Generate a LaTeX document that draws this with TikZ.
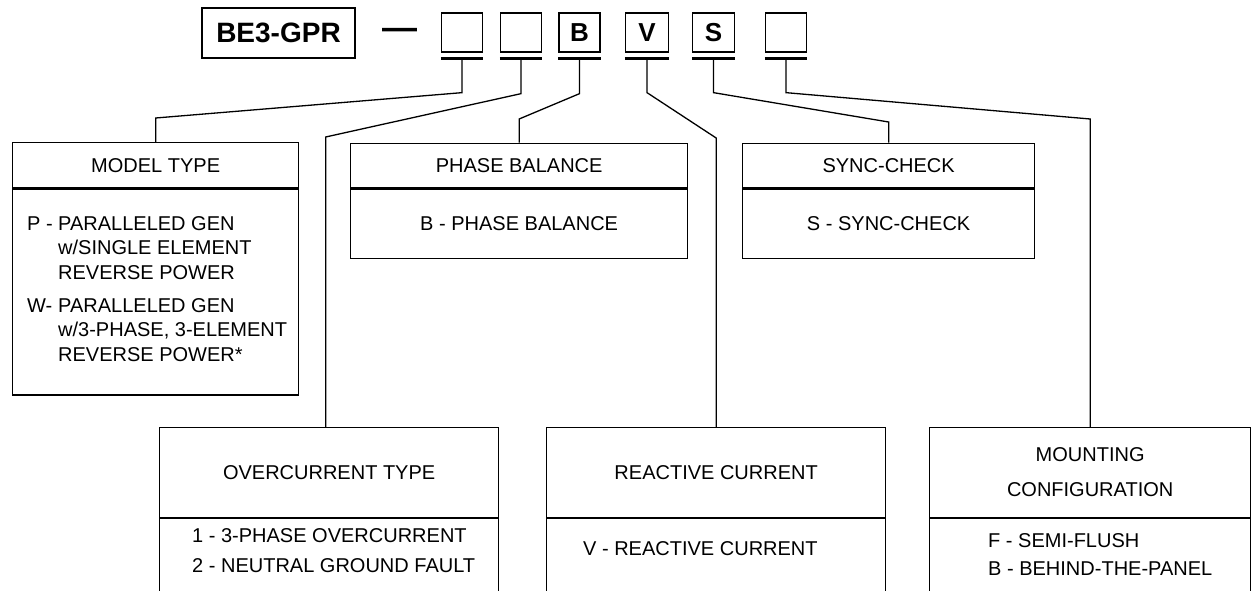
\documentclass[tikz,border=0pt]{standalone}
\usepackage{fontspec}
\setmainfont{Liberation Sans}
\usetikzlibrary{positioning}

\tikzset{
  wire/.style={line width=1.3pt},
  codebar/.style={line width=3.5pt},
  codebox/.style={draw, line width=1.3pt, minimum width=41pt, minimum height=39pt, inner sep=0pt,
    font=\bfseries\fontsize{26}{26}\selectfont},
  headbox/.style={draw, line width=1.3pt, inner sep=0pt, anchor=north west,
    font=\fontsize{20}{24}\selectfont},
  bodybox/.style={draw, line width=1.3pt, inner sep=0pt,
    font=\fontsize{20}{24}\selectfont},
  listtxt/.style={anchor=base west, inner sep=0pt, font=\fontsize{20}{24.5}\selectfont}
}

\begin{document}
\begin{tikzpicture}[x=1pt,y=-1pt]
            \useasboundingbox (0,0) rectangle (1260,591);
            \clip (0,0) rectangle (1260,591);

            \node[draw, line width=1.3pt, minimum width=153pt, minimum height=50pt, inner sep=0pt,
                  font=\bfseries\fontsize{28}{28}\selectfont] (base) at (278.5,33) {BE3-GPR};
            \node[inner sep=0pt, font=\bfseries\fontsize{35}{35}\selectfont] (dash) at (399.5,33.5) {—};
            \node[codebox] (c1) at (462,32.5) {};
            \node[codebox] (c2) at (521,32.5) {};
            \node[codebox] (c3) at (579.5,32.5) {B};
            \node[codebox, minimum width=43pt] (c4) at (647,32.5) {V};
            \node[codebox, minimum width=42pt] (c5) at (713.5,32.5) {S};
            \node[codebox] (c6) at (786,32.5) {};

            \foreach \i in {1,...,6} {
                \coordinate (s\i) at ([yshift=-6pt]c\i.south);
                \draw[codebar] ([yshift=-6pt]c\i.south west) -- ([yshift=-6pt]c\i.south east);
            }

            \node[headbox, minimum width=286pt, minimum height=45pt] (mthead) at (12,142) {MODEL TYPE};
            \node[bodybox, minimum width=286pt, minimum height=206pt, below=0pt of mthead] (mtbody) {};
            \node[headbox, minimum width=337pt, minimum height=44.5pt] (pbhead) at (350,142.5) {PHASE BALANCE};
            \node[bodybox, minimum width=337pt, minimum height=69.5pt, below=0pt of pbhead] (pbbody) {B - PHASE BALANCE};
            \node[headbox, minimum width=292pt, minimum height=44.5pt] (schead) at (742,142.5) {SYNC-CHECK};
            \node[bodybox, minimum width=292pt, minimum height=69.5pt, below=0pt of schead] (scbody) {S - SYNC-CHECK};
            \node[headbox, minimum width=339pt, minimum height=89.5pt] (ochead) at (159,427) {OVERCURRENT TYPE};
            \node[bodybox, minimum width=339pt, minimum height=100pt, below=0pt of ochead] (ocbody) {};
            \node[headbox, minimum width=339pt, minimum height=89.5pt] (rchead) at (546,427) {REACTIVE CURRENT};
            \node[bodybox, minimum width=339pt, minimum height=100pt, below=0pt of rchead] (rcbody) {};
            \node[headbox, minimum width=321pt, minimum height=89.5pt, align=center,
                  font=\fontsize{20}{35}\selectfont] (mchead) at (929,427) {MOUNTING\\CONFIGURATION};
            \node[bodybox, minimum width=321pt, minimum height=100pt, below=0pt of mchead] (mcbody) {};

            \node[listtxt] (mtlist) at (27,230) {\begin{tabular}[t]{@{}p{31pt}@{}l@{}}
                P -&PARALLELED GEN\\ &w/SINGLE ELEMENT\\ &REVERSE POWER\\[8.5pt]
                W-&PARALLELED GEN\\ &w/3-PHASE, 3-ELEMENT\\ &REVERSE POWER*
            \end{tabular}};
            \node[listtxt] (oclist) at (192,542) {\begin{tabular}[t]{@{}l@{}}
                1 - 3-PHASE OVERCURRENT\\[5.5pt] 2 - NEUTRAL GROUND FAULT
            \end{tabular}};
            \node[listtxt] (rclist) at (583,555) {V - REACTIVE CURRENT};
            \node[listtxt] (mclist) at (988,547) {\begin{tabular}[t]{@{}l@{}}
                F - SEMI-FLUSH\\[3.5pt] B - BEHIND-THE-PANEL
            \end{tabular}};

            \draw[wire] (s1) -- ++(0,34) -- ([yshift=24pt]mthead.north) -- (mthead.north);
            \draw[wire] (s2) -- ++(0,35) -- ([xshift=-3.5pt,yshift=290pt]ochead.north) -- ([xshift=-3.5pt]ochead.north);
            \draw[wire] (s3) -- ++(0,35) -- ([yshift=23.5pt]pbhead.north) -- (pbhead.north);
            \draw[wire] (s4) -- ++(0,34) -- ([yshift=289pt]rchead.north) -- (rchead.north);
            \draw[wire] (s5) -- ++(0,34) -- ([yshift=20.5pt]schead.north) -- (schead.north);
            \draw[wire] (s6) -- ++(0,34) -- ([yshift=308pt]mchead.north) -- (mchead.north);
\end{tikzpicture}
\end{document}
